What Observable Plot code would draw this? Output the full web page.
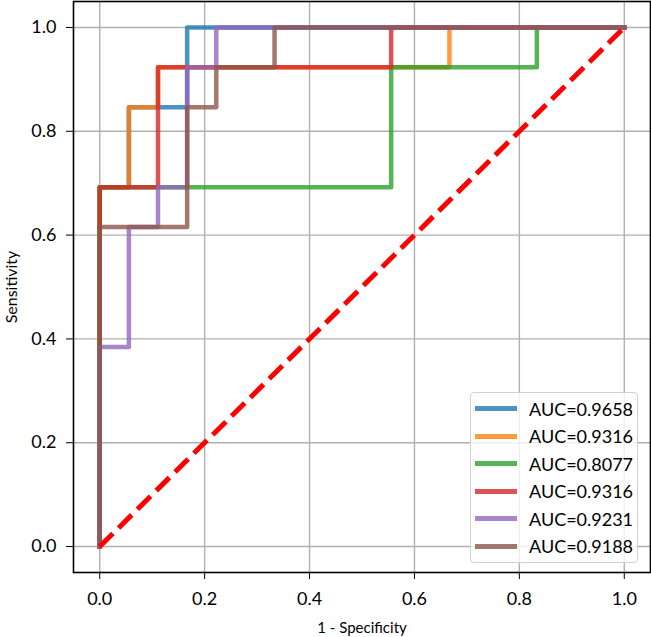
<!DOCTYPE html>
<html>
<head>
<meta charset="utf-8">
<script src="https://cdn.jsdelivr.net/npm/d3@7"></script>
<script src="https://cdn.jsdelivr.net/npm/@observablehq/plot@0.6"></script>
<style>
  html, body { margin: 0; padding: 0; background: #fff; }
  #wrap { position: relative; width: 651px; height: 637px; font-family: Lato, sans-serif; }
  #wrap svg { display: block; }
  #legend {
    position: absolute; left: 470px; top: 392px; width: 168px; height: 171px;
    border: 1px solid #d0d0d0; border-radius: 4px; background: rgba(255,255,255,0.8);
    box-sizing: border-box;
  }
  .row { position: absolute; left: 0; height: 20px; }
  .sw { position: absolute; left: 4px; width: 42px; height: 5px; }
  .lab { position: absolute; left: 58px; top: 0; font-size: 18px; white-space: nowrap; color: #000; line-height: 20px; }
</style>
</head>
<body>
<div id="wrap"></div>
<script>
// Series labels
const labels = ["AUC=0.9658", "AUC=0.9316", "AUC=0.8077", "AUC=0.9316", "AUC=0.9231", "AUC=0.9188"];
const colors = ["#1f77b4", "#ff7f0e", "#2ca02c", "#d62728", "#9467bd", "#8c564b"];

// ROC points (1 - specificity, sensitivity)
const fpr1 = [0, 0, 0.0556, 0.0556, 0.1667, 0.1667, 1];
const tpr1 = [0, 0.6923, 0.6923, 0.8462, 0.8462, 1, 1];
const fpr2 = [0, 0, 0.0556, 0.0556, 0.1111, 0.1111, 0.6667, 0.6667, 1];
const tpr2 = [0, 0.6923, 0.6923, 0.8462, 0.8462, 0.9231, 0.9231, 1, 1];
const fpr3 = [0, 0, 0.5556, 0.5556, 0.8333, 0.8333, 1];
const tpr3 = [0, 0.6923, 0.6923, 0.9231, 0.9231, 1, 1];
const fpr4 = [0, 0, 0.1111, 0.1111, 0.5556, 0.5556, 1];
const tpr4 = [0, 0.6923, 0.6923, 0.9231, 0.9231, 1, 1];
const fpr5 = [0, 0, 0.0556, 0.0556, 0.1111, 0.1111, 0.1667, 0.1667, 0.2222, 0.2222, 1];
const tpr5 = [0, 0.3846, 0.3846, 0.6154, 0.6154, 0.6923, 0.6923, 0.9231, 0.9231, 1, 1];
const fpr6 = [0, 0, 0.1667, 0.1667, 0.2222, 0.2222, 0.3333, 0.3333, 1];
const tpr6 = [0, 0.6154, 0.6154, 0.8462, 0.8462, 0.9231, 0.9231, 1, 1];

const fprs = [fpr1, fpr2, fpr3, fpr4, fpr5, fpr6];
const tprs = [tpr1, tpr2, tpr3, tpr4, tpr5, tpr6];

// Chance diagonal
const diagX = [0, 1];
const diagY = [0, 1];

const ticks = [0, 0.2, 0.4, 0.6, 0.8, 1.0];
const xLabel = "1 - Specificity";
const yLabel = "Sensitivity";

const series = fprs.map((f, i) => f.map((x, j) => ({x, y: tprs[i][j]})));

const marks = [
  Plot.gridX(ticks, {stroke: "#b0b0b0", strokeOpacity: 1, strokeWidth: 1.4}),
  Plot.gridY(ticks, {stroke: "#b0b0b0", strokeOpacity: 1, strokeWidth: 1.4}),
  ...series.map((d, i) => Plot.line(d, {
    x: "x", y: "y", stroke: colors[i], strokeOpacity: 0.8, strokeWidth: 4.5,
    strokeLinejoin: "round", strokeLinecap: "square"
  })),
  Plot.line(diagX.map((x, i) => ({x, y: diagY[i]})), {
    x: "x", y: "y", stroke: "red", strokeWidth: 5, strokeDasharray: "18.5,8", strokeLinecap: "butt"
  }),
  Plot.axisX({ticks, tickFormat: ".1f", tickSize: 7, tickPadding: 13, fontSize: 18, label: null}),
  Plot.axisY({ticks, tickFormat: ".1f", tickSize: 7, tickPadding: 10, fontSize: 18, label: null}),
  Plot.text([xLabel], {text: d => d, frameAnchor: "bottom", dy: 56, lineAnchor: "middle", fontSize: 15, fill: "#000"}),
  Plot.text([yLabel], {text: d => d, frameAnchor: "left", dx: -62, rotate: -90, lineAnchor: "middle", textAnchor: "middle", fontSize: 16, fill: "#000"}),
  Plot.frame({stroke: "black", strokeWidth: 1.6})
];

const chart = Plot.plot({
  width: 651, height: 637,
  marginLeft: 73, marginRight: 1, marginTop: 1, marginBottom: 65,
  x: {domain: [-0.05, 1.05]},
  y: {domain: [-0.05, 1.05]},
  style: {fontFamily: "Lato, sans-serif", fontSize: "18px", color: "#000", background: "#fff", overflow: "visible"},
  marks
});
const wrap = document.getElementById("wrap");
wrap.appendChild(chart);

const leg = document.createElement("div");
leg.id = "legend";
labels.forEach((lab, i) => {
  const row = document.createElement("div");
  row.className = "row";
  row.style.top = (5.5 + i * 27.5) + "px";
  row.style.width = "100%";
  const sw = document.createElement("div");
  sw.className = "sw";
  sw.style.background = colors[i];
  sw.style.opacity = 0.8;
  sw.style.top = "7.5px";
  const t = document.createElement("div");
  t.className = "lab";
  t.textContent = lab;
  row.appendChild(sw);
  row.appendChild(t);
  leg.appendChild(row);
});
wrap.appendChild(leg);
</script>
</body>
</html>
